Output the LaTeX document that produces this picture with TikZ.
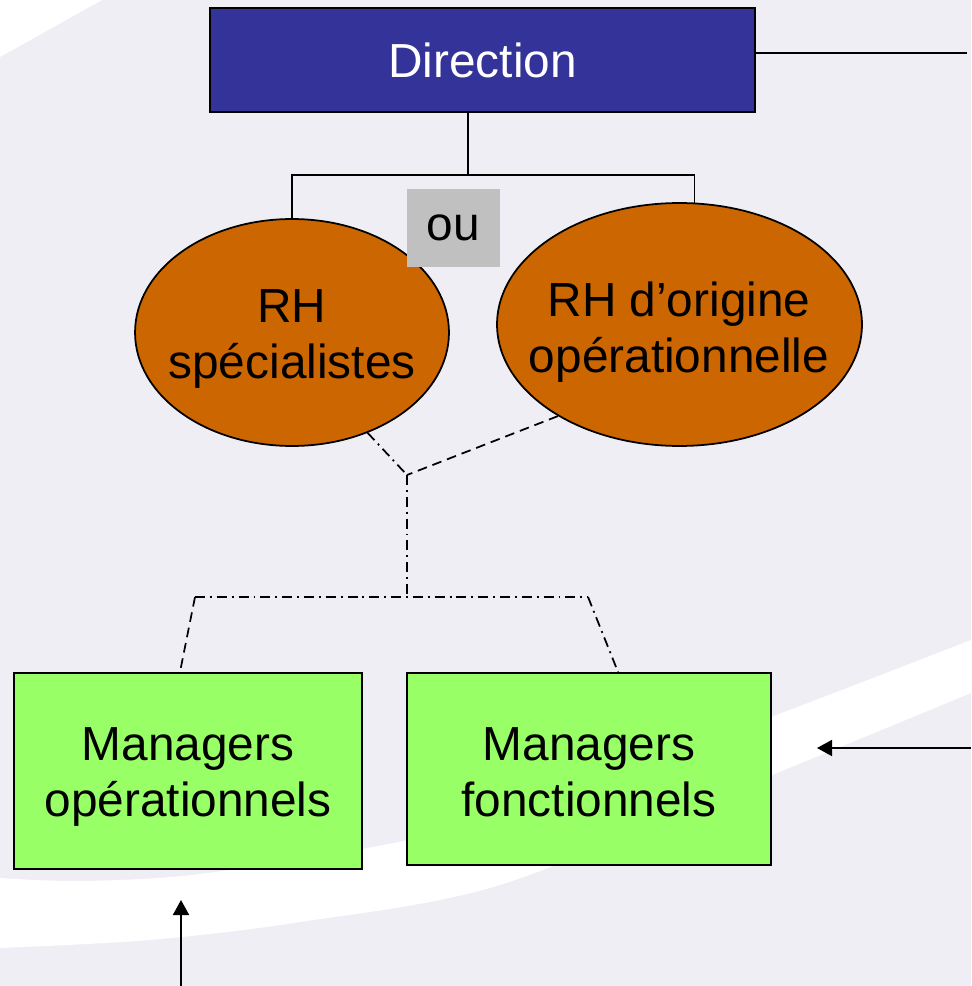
\documentclass[tikz,border=0pt]{standalone}
\usepackage{fontspec}
\setmainfont{Liberation Sans}
\usetikzlibrary{arrows.meta}
\usetikzlibrary{calc}
\usetikzlibrary{shapes.geometric}
\usepackage{xcolor}
\definecolor{bgpale}{RGB}{239,238,245}
\definecolor{dirblue}{RGB}{51,51,153}
\definecolor{rhorange}{RGB}{204,102,0}
\definecolor{mgrgreen}{RGB}{153,255,102}
\definecolor{ougray}{RGB}{192,192,192}

\begin{document}
\begin{tikzpicture}[x=0.02cm,y=-0.02cm,
        lbl/.style={font=\fontsize{27.2}{32}\selectfont,align=center,inner sep=0pt},
        box/.style={draw=black,line width=1.2pt,inner sep=0pt,font=\fontsize{27.2}{32}\selectfont,align=center},
        rh/.style={ellipse,draw=black,line width=1pt,fill=rhorange,inner sep=0pt},
        link/.style={line width=1pt},
        dashlink/.style={line width=1pt,dash pattern=on 5.5pt off 3.4pt},
        dotlink/.style={line width=1pt,dash pattern=on 5.7pt off 2.8pt on 1.1pt off 2.8pt},
        tip/.style={line width=1pt,-{Triangle[length=0.3cm,width=0.32cm]}}]

        % Background
        \useasboundingbox (0,0) rectangle (971,986);
        \fill[bgpale] (0,0) rectangle (971,986);
        \fill[white] (0,0) -- (102,0) -- (0,57) -- cycle;
        \fill[white] plot[smooth] coordinates {(971,640) (771,717) (560,794) (408,840) (200,874) (80,881) (0,878)}
          -- plot[smooth] coordinates {(0,948) (150,940) (300,922) (500,885) (772,775) (971,693)} -- cycle;

        % Nodes
        \node[box,fill=dirblue,text=white,minimum width=10.9cm,minimum height=2.08cm] (direction) at (482.5,60) {Direction};
        \node[rh,minimum width=6.28cm,minimum height=4.54cm] (rhspec) at (292,332.5) {};
        \node[rh,minimum width=7.3cm,minimum height=4.86cm] (rhop) at (679.5,324.5) {};
        \node[lbl] (rhspectxt) at (292,339) {RH\\spécialistes};
        \node[lbl] (rhoptxt) at (679,332) {RH d’origine\\opérationnelle};
        \node[fill=ougray,minimum width=1.86cm,minimum height=1.56cm,inner sep=0pt,
              font=\fontsize{27.2}{32}\selectfont] (ou) at (453.5,228) {ou};
        \node[box,fill=mgrgreen,minimum width=6.96cm,minimum height=3.92cm] (manop) at (188,771) {};
        \node[box,fill=mgrgreen,minimum width=7.28cm,minimum height=3.84cm] (manfon) at (589,769) {};
        \node[lbl] (manoptxt) at (188,777) {Managers\\opérationnels};
        \node[lbl] (manfontxt) at (589,772) {Managers\\fonctionnels};

        % Hierarchy
        \coordinate (split) at (468,175);
        \draw[link] (direction.south -| split) -- (split);
        \draw[link] (rhspec.north) |- (split) -| (rhop.83);

        % Links to managers
        \coordinate (meet) at (407,475);
        \coordinate (hub) at (407,597);
        \coordinate (lcorner) at (195,597);
        \coordinate (rcorner) at (588,597);
        \draw[dotlink] (rhspec.-53) -- (meet);
        \draw[dashlink] (rhop.-143) -- (meet);
        \draw[dotlink] (meet) -- (hub);
        \draw[dotlink] (lcorner) -- (rcorner);
        \draw[dashlink] (lcorner) -- ($(manop.north)+(-8,0)$);
        \draw[dotlink] (rcorner) -- ($(manfon.north)+(29,0)$);

        % Outside links
        \coordinate (dirout) at (967,53);
        \coordinate (fonin) at (971,748);
        \coordinate (fontip) at (817,748);
        \coordinate (opin) at (181,986);
        \coordinate (optip) at (181,900);
        \draw[link] ($(direction.east)+(0,-7)$) -- (dirout);
        \draw[tip] (fonin) -- (fontip);
        \draw[tip] (opin) -- (optip);
    \end{tikzpicture}
\end{document}
